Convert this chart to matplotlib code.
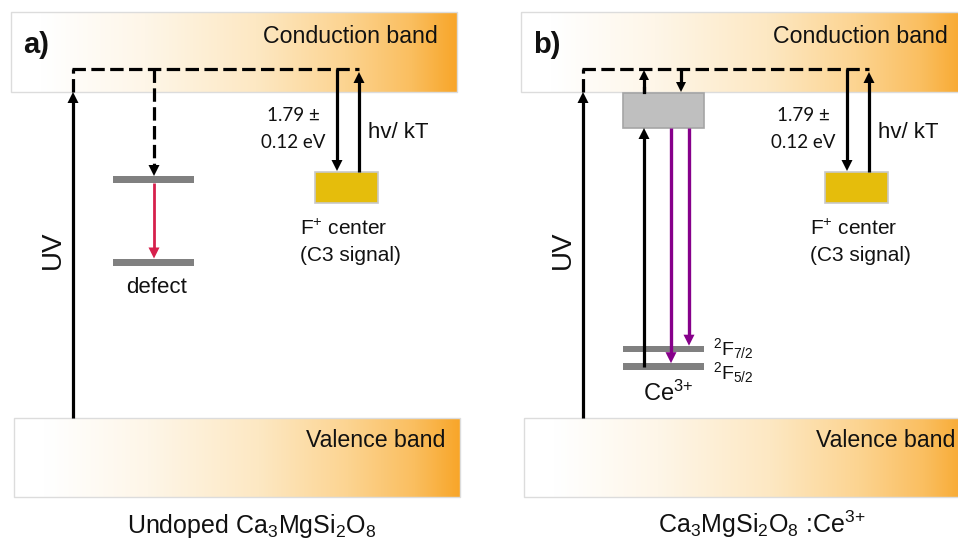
import numpy as np
import matplotlib
matplotlib.use("Agg")
import matplotlib.pyplot as plt
from matplotlib.patches import Rectangle, Polygon
from matplotlib.colors import LinearSegmentedColormap

plt.rcParams['font.family'] = ['Liberation Sans', 'DejaVu Sans']
plt.rcParams['mathtext.fontset'] = 'custom'
plt.rcParams['mathtext.rm'] = 'Liberation Sans'
plt.rcParams['mathtext.it'] = 'Liberation Sans:italic'
plt.rcParams['mathtext.bf'] = 'Liberation Sans:bold'

# ---------------- data (diagram layout, pixel units) ----------------
panel_offsets = [0, 510]
panel_letters = ["a)", "b)"]
panel_titles = [r"Undoped Ca$_3$MgSi$_2$O$_8$", r"Ca$_3$MgSi$_2$O$_8$ :Ce$^{3{+}}$"]
cb_x = [11, 457]
cb_y = [12, 92]
vb_x = [14, 460]
vb_y = [418, 497]
band_labels = ["Conduction band", "Valence band"]
dash_y = 69
uv_x = 73
fp_arrow_down_x = 337
fp_arrow_up_x = 359
fp_box = [315, 172, 378, 203]
energy_text = ["1.79 \u00b1", "0.12 eV"]
trap_text = ["hv/ kT"]
fcenter_text = [r"F$^{+}$ center", "(C3 signal)"]
defect_levels = [179.5, 262]
defect_x = [113, 194]
defect_arrow_x = 154
ce_box = [623, 93, 704, 128]
ce_levels = [349, 366.5]
ce_level_x = [623, 704]
ce_up_x = 644
ce_purple_x = [671, 689]
ce_labels = [r"$^{2}$F$_{7/2}$", r"$^{2}$F$_{5/2}$", r"Ce$^{3{+}}$"]

grad_pos = [0.0, 0.07, 0.3, 0.55, 0.75, 0.9, 1.0]
grad_col = [(255, 255, 255), (255, 255, 255), (254, 246, 232), (253, 232, 195),
            (252, 212, 145), (250, 190, 95), (248, 166, 42)]

RED = "#D6204C"
PURPLE = "#86008A"
GOLD = "#E5BD0C"
LEVEL = "#808080"

# ---------------- drawing ----------------
fig = plt.figure(figsize=(9.58, 5.39), dpi=100)
ax = fig.add_axes([0, 0, 1, 1])
ax.set_xlim(0, 958)
ax.set_ylim(539, 0)
ax.axis('off')

cmap = LinearSegmentedColormap.from_list(
    "band", [(p, tuple(c / 255 for c in col)) for p, col in zip(grad_pos, grad_col)])
grad = np.linspace(0, 1, 512).reshape(1, -1)

LW = 2.3
DASH = (0, (4.2, 1.7))


def arrow(x, y0, y1, color="black", dashed=False, lw=LW, hl=11, hw=11):
    d = np.sign(y1 - y0)
    ax.plot([x, x], [y0, y1 - d * hl * 0.7], color=color, lw=lw,
            linestyle=DASH if dashed else '-', solid_capstyle='butt',
            dash_capstyle='butt', zorder=4)
    ax.add_patch(Polygon([(x - hw / 2, y1 - d * hl), (x + hw / 2, y1 - d * hl), (x, y1)],
                         closed=True, color=color, lw=0, zorder=5))


def band(x0, x1, y0, y1):
    ax.imshow(grad, cmap=cmap, extent=[x0, x1, y1, y0], aspect='auto',
              interpolation='bicubic', zorder=1)
    ax.add_patch(Rectangle((x0, y0), x1 - x0, y1 - y0, fill=False,
                           ec="#DCDCDC", lw=1.0, zorder=2))


for i, off in enumerate(panel_offsets):
    band(cb_x[0] + off, cb_x[1] + off, cb_y[0], cb_y[1])
    band(vb_x[0] + off, vb_x[1] + off, vb_y[0], vb_y[1])
    ax.text(438 + off, 43, band_labels[0], fontsize=16.7, ha='right', va='baseline',
            color="#111111", zorder=6)
    ax.text(445 + off, 447, band_labels[1], fontsize=16.7, ha='right', va='baseline',
            color="#111111", zorder=6)
    ax.text(23 + off, 53, panel_letters[i], fontsize=21, fontweight='bold',
            ha='left', va='baseline', color="#111111", zorder=6)
    ax.text(252 + off, 533, panel_titles[i], fontsize=18, ha='center', va='baseline',
            color="#111111", zorder=6)

    # UV excitation
    ux = uv_x + off
    arrow(ux, vb_y[0], cb_y[1])
    ax.plot([ux, ux], [cb_y[1], dash_y], color='black', lw=LW, linestyle=DASH,
            dash_capstyle='butt', zorder=4)
    ax.plot([ux - 1, fp_arrow_up_x + off], [dash_y, dash_y], color='black', lw=LW,
            linestyle=DASH, dash_capstyle='butt', zorder=4)
    ax.text(53 + off, 250, "UV", fontsize=20, rotation=90, ha='center', va='center',
            color="#111111", zorder=6)

    # F+ centre trap
    arrow(fp_arrow_down_x + off, dash_y, fp_box[1] - 1)
    arrow(fp_arrow_up_x + off, fp_box[1], dash_y + 3)
    ax.add_patch(Rectangle((fp_box[0] + off, fp_box[1]), fp_box[2] - fp_box[0],
                           fp_box[3] - fp_box[1], fc=GOLD, ec="#C8C8C8", lw=1.2, zorder=3))
    ax.text(293 + off, 121, energy_text[0], fontsize=13.5, family=['Lato', 'DejaVu Sans'],
            ha='center', va='baseline', color="#111111", zorder=6)
    ax.text(293 + off, 148, energy_text[1], fontsize=13.5, family=['Lato', 'DejaVu Sans'],
            ha='center', va='baseline', color="#111111", zorder=6)
    ax.text(368 + off, 138, trap_text[0], fontsize=16, ha='left', va='baseline',
            color="#111111", zorder=6)
    ax.text(300 + off, 235, fcenter_text[0], fontsize=15, ha='left', va='baseline',
            color="#111111", zorder=6)
    ax.text(300 + off, 261, fcenter_text[1], fontsize=15, ha='left', va='baseline',
            color="#111111", zorder=6)

# ---- panel a: defect ----
for y in defect_levels:
    ax.add_patch(Rectangle((defect_x[0], y - 3.5), defect_x[1] - defect_x[0], 7,
                           fc=LEVEL, ec='none', zorder=3))
arrow(defect_arrow_x, dash_y, defect_levels[0] - 3.5, dashed=True)
arrow(defect_arrow_x, defect_levels[0] + 3.5, defect_levels[1] - 3.5, color=RED, lw=2.0)
ax.text(157, 293, "defect", fontsize=16, ha='center', va='baseline', color="#111111",
        zorder=6)

# ---- panel b: Ce3+ ----
ax.add_patch(Rectangle((ce_box[0], ce_box[1]), ce_box[2] - ce_box[0], ce_box[3] - ce_box[1],
                       fc="#BFBFBF", ec="#A5A5A5", lw=1.2, zorder=3))
arrow(ce_up_x, ce_box[1], dash_y + 1, dashed=False, hl=10, hw=10)
ax.plot([ce_up_x, ce_up_x], [ce_box[1] - 1, ce_box[1] - 5], color='black', lw=LW, zorder=4)
arrow(ce_box[0] + 58, dash_y, ce_box[1] - 1, hl=10, hw=10)
for y in ce_levels:
    ax.add_patch(Rectangle((ce_level_x[0], y - 3.3), ce_level_x[1] - ce_level_x[0], 6.6,
                           fc=LEVEL, ec='none', zorder=3))
arrow(ce_up_x, ce_levels[1], ce_box[3])
arrow(ce_purple_x[0], ce_box[3], ce_levels[1] - 3.3, color=PURPLE, lw=2.4)
arrow(ce_purple_x[1], ce_box[3], ce_levels[0] - 3.3, color=PURPLE, lw=2.4)
ax.text(713, 355, ce_labels[0], fontsize=14, ha='left', va='baseline', color="#111111", zorder=6)
ax.text(713, 379, ce_labels[1], fontsize=14, ha='left', va='baseline', color="#111111", zorder=6)
ax.text(643, 401, ce_labels[2], fontsize=17, ha='left', va='baseline', color="#111111", zorder=6)

fig.savefig("out.png", dpi=100)
